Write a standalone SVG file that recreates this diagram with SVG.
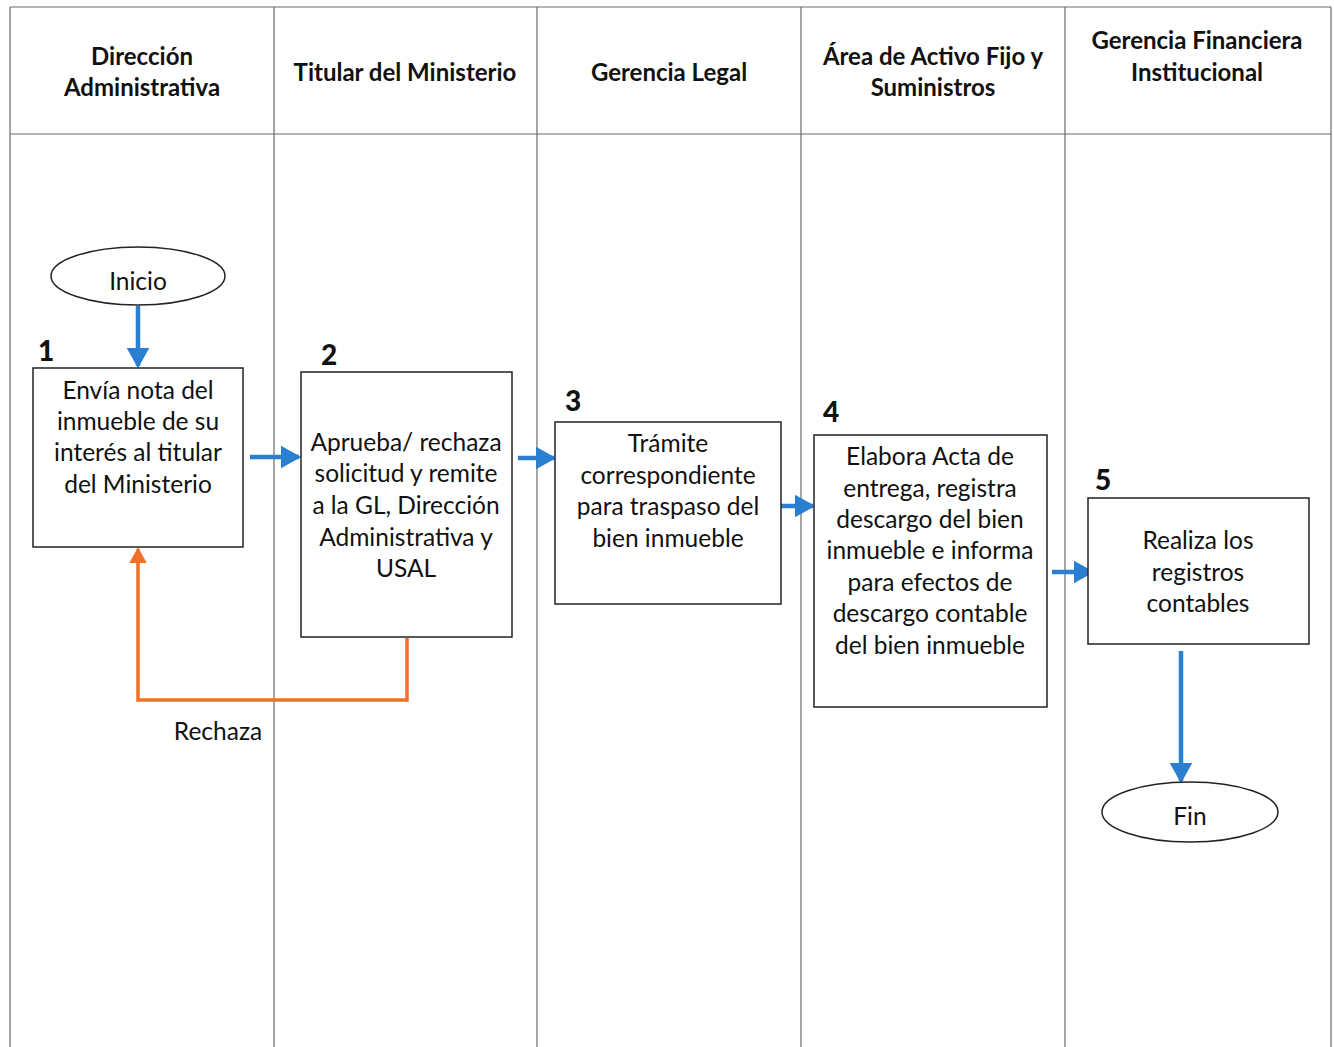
<svg xmlns="http://www.w3.org/2000/svg" width="1334" height="1047" viewBox="0 0 1334 1047">
  <defs>
    <marker id="ahBlue" markerWidth="5" markerHeight="5" refX="4" refY="2.5" orient="auto" markerUnits="strokeWidth">
      <path d="M0,0 L4.5,2.5 L0,5 Z" fill="#2b7fd0"/>
    </marker>
    <marker id="ahOrange" markerWidth="5" markerHeight="5" refX="4" refY="2.5" orient="auto" markerUnits="strokeWidth">
      <path d="M0,0 L4.5,2.5 L0,5 Z" fill="#f07028"/>
    </marker>
    <style>
      .grid { stroke: #6a6a6a; stroke-width: 1.2; fill: none; }
      .hdr { font-family: "Lato", "Open Sans", "Liberation Sans", sans-serif; font-weight: bold; font-size: 24px; fill: #111; text-anchor: middle; }
      .box { fill: #fff; stroke: #222; stroke-width: 1.5; }
      .txt { font-family: "Lato", "Open Sans", "Liberation Sans", sans-serif; font-size: 24.5px; fill: #111; text-anchor: middle; }
      .num { font-family: "Lato", "Open Sans", "Liberation Sans", sans-serif; font-weight: 900; font-size: 28px; fill: #111; }
      .flow { stroke: #2b7fd0; stroke-width: 4.5; fill: none; marker-end: url(#ahBlue); }
      .back { stroke: #f07028; stroke-width: 3.5; fill: none; marker-end: url(#ahOrange); }
    </style>
  </defs>

  <rect width="1334" height="1047" fill="#fff"/>

  <!-- swimlane table -->
  <g id="lanes">
    <line class="grid" x1="10" y1="7" x2="1331" y2="7"/>
    <line class="grid" x1="10" y1="134" x2="1331" y2="134"/>
    <line class="grid" x1="10" y1="7" x2="10" y2="1047"/>
    <line class="grid" x1="274" y1="7" x2="274" y2="1047"/>
    <line class="grid" x1="537" y1="7" x2="537" y2="1047"/>
    <line class="grid" x1="801" y1="7" x2="801" y2="1047"/>
    <line class="grid" x1="1065" y1="7" x2="1065" y2="1047"/>
    <line class="grid" x1="1331" y1="7" x2="1331" y2="1047"/>
    <text class="hdr" x="142" y="65">Dirección</text>
    <text class="hdr" x="142" y="96">Administrativa</text>
    <text class="hdr" x="405" y="81">Titular del Ministerio</text>
    <text class="hdr" x="669" y="81">Gerencia Legal</text>
    <text class="hdr" x="933" y="65">Área de Activo Fijo y</text>
    <text class="hdr" x="933" y="96">Suministros</text>
    <text class="hdr" x="1197" y="49">Gerencia Financiera</text>
    <text class="hdr" x="1197" y="81">Institucional</text>
  </g>

  <!-- connectors -->
  <g id="connectors">
    <line class="flow" x1="138" y1="306" x2="138" y2="366"/>
    <line class="flow" x1="250" y1="457" x2="299" y2="457"/>
    <line class="flow" x1="518" y1="458" x2="554" y2="458"/>
    <line class="flow" x1="771" y1="506" x2="813" y2="506"/>
    <line class="flow" x1="1052" y1="572" x2="1092" y2="572"/>
    <line class="flow" x1="1181" y1="651" x2="1181" y2="781"/>
    <polyline class="back" points="407,638 407,700 138,700 138,549"/>
    <text class="txt" x="218" y="740">Rechaza</text>
  </g>

  <g id="inicio">
    <ellipse cx="138" cy="276" rx="87" ry="29" fill="#fff" stroke="#222" stroke-width="1.5"/>
    <text class="txt" x="138" y="290">Inicio</text>
  </g>

  <g id="paso1">
    <text class="num" x="38" y="361">1</text>
    <rect class="box" x="33" y="368" width="210" height="179"/>
    <text class="txt" x="138" y="399">Envía nota del</text>
    <text class="txt" x="138" y="430">inmueble de su</text>
    <text class="txt" x="138" y="461">interés al titular</text>
    <text class="txt" x="138" y="493">del Ministerio</text>
  </g>

  <g id="paso2">
    <text class="num" x="321" y="365">2</text>
    <rect class="box" x="301" y="372" width="211" height="265"/>
    <text class="txt" x="406" y="451">Aprueba/ rechaza</text>
    <text class="txt" x="406" y="482">solicitud y remite</text>
    <text class="txt" x="406" y="514">a la GL, Dirección</text>
    <text class="txt" x="406" y="546">Administrativa y</text>
    <text class="txt" x="406" y="577">USAL</text>
  </g>

  <g id="paso3">
    <text class="num" x="565" y="411">3</text>
    <rect class="box" x="555" y="422" width="226" height="182"/>
    <text class="txt" x="668" y="452">Trámite</text>
    <text class="txt" x="668" y="484">correspondiente</text>
    <text class="txt" x="668" y="515">para traspaso del</text>
    <text class="txt" x="668" y="547">bien inmueble</text>
  </g>

  <g id="paso4">
    <text class="num" x="823" y="422">4</text>
    <rect class="box" x="814" y="435" width="233" height="272"/>
    <text class="txt" x="930" y="465">Elabora Acta de</text>
    <text class="txt" x="930" y="497">entrega, registra</text>
    <text class="txt" x="930" y="528">descargo del bien</text>
    <text class="txt" x="930" y="559">inmueble e informa</text>
    <text class="txt" x="930" y="591">para efectos de</text>
    <text class="txt" x="930" y="622">descargo contable</text>
    <text class="txt" x="930" y="654">del bien inmueble</text>
  </g>

  <g id="paso5">
    <text class="num" x="1095" y="490">5</text>
    <rect class="box" x="1088" y="498" width="221" height="146"/>
    <text class="txt" x="1198" y="549">Realiza los</text>
    <text class="txt" x="1198" y="581">registros</text>
    <text class="txt" x="1198" y="612">contables</text>
  </g>

  <g id="fin">
    <ellipse cx="1190" cy="812" rx="88" ry="30" fill="#fff" stroke="#222" stroke-width="1.5"/>
    <text class="txt" x="1190" y="825">Fin</text>
  </g>
</svg>
